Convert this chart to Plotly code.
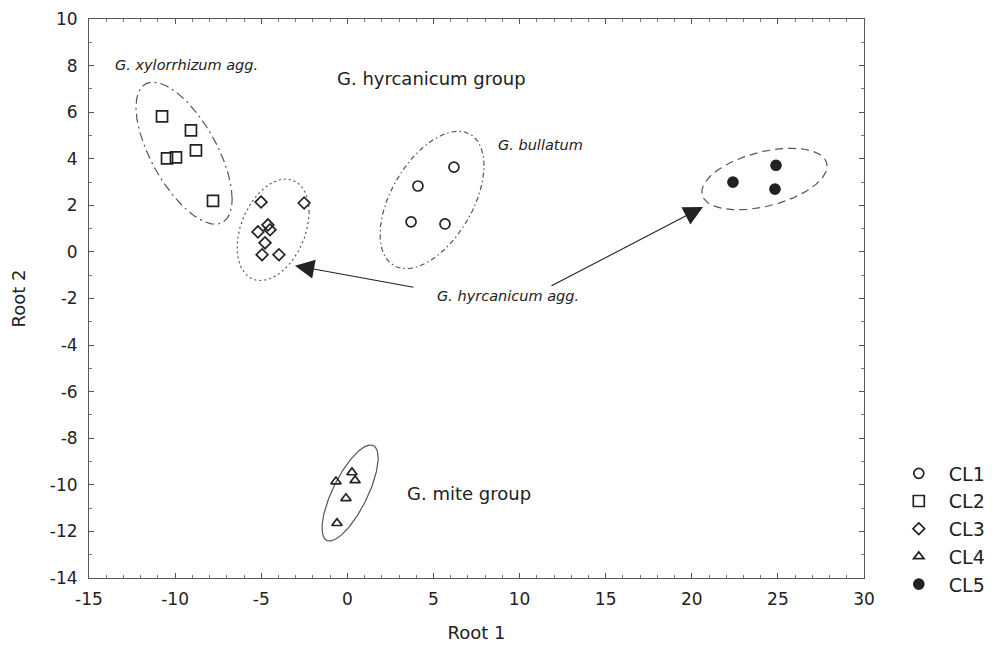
import numpy as np
import plotly.graph_objects as go

# ---- data ----
cl1_x = [6.19, 4.10, 3.70, 5.67]
cl1_y = [3.64, 2.83, 1.29, 1.20]
cl2_x = [-10.76, -9.08, -10.47, -9.95, -8.79, -7.80]
cl2_y = [5.82, 5.22, 4.02, 4.06, 4.36, 2.19]
cl3_x = [-5.01, -2.51, -4.61, -4.49, -5.19, -4.78, -4.95, -3.97]
cl3_y = [2.14, 2.10, 1.16, 0.95, 0.86, 0.39, -0.12, -0.12]
cl4_x = [-0.66, 0.27, 0.45, -0.08, -0.60]
cl4_y = [-9.86, -9.47, -9.81, -10.58, -11.65]
cl5_x = [24.89, 22.39, 24.83]
cl5_y = [3.72, 3.00, 2.70]

x_ticks = [-15, -10, -5, 0, 5, 10, 15, 20, 25, 30]
x_ticktext = ["-15", "-10", "-5", "0", "5", "10", "15", "20", "25", "30"]
y_ticks = [10, 8, 6, 4, 2, 0, -2, -4, -6, -8, -10, -12, -14]
y_ticktext = ["10", "8", "6", "4", "2", "0", "-2", "-4", "-6", "-8", "-10", "-12", "-14"]

# ellipse params: centre x, centre y, half-width, half-height, correlation, dash
ell_cx = [-9.48, -4.31, 4.92, 0.16, 24.22]
ell_cy = [4.24, 0.95, 2.23, -10.35, 3.13]
ell_rx = [2.79, 2.09, 3.02, 1.63, 3.64]
ell_ry = [3.05, 2.18, 2.95, 2.06, 1.32]
ell_rho = [-0.646, 0.35, 0.50, 0.73, 0.42]
ell_dash = ["9px,4px,2px,4px", "2px,3px", "5px,3px,1.5px,3px", "solid", "8px,5px"]

INK = "#222222"
FONT = "DejaVu Sans, Verdana, sans-serif"

fig = go.Figure()

t = np.linspace(0, 2 * np.pi, 300)
for cx, cy, rx, ry, rho, dash in zip(ell_cx, ell_cy, ell_rx, ell_ry, ell_rho, ell_dash):
    d = np.arccos(rho)
    fig.add_trace(go.Scatter(
        x=cx + rx * np.cos(t), y=cy + ry * np.cos(t - d),
        mode="lines", line=dict(color="#555555", width=1.2, dash=dash),
        showlegend=False, hoverinfo="skip"))

series = [
    ("CL1", cl1_x, cl1_y, "circle-open", 10),
    ("CL2", cl2_x, cl2_y, "square-open", 11),
    ("CL3", cl3_x, cl3_y, "diamond-open", 9),
    ("CL4", cl4_x, cl4_y, "triangle-up-open", 9),
    ("CL5", cl5_x, cl5_y, "circle", 10),
]
for name, xs, ys, sym, sz in series:
    fig.add_trace(go.Scatter(
        x=xs, y=ys, mode="markers", name=name,
        marker=dict(symbol=sym, size=sz, color=INK,
                    line=dict(width=1.7, color=INK))))

# text labels
labels = [
    ("G. xylorrhizum agg.", -13.6, 8.04, True, 14.5, "left"),
    ("G. hyrcanicum group", 4.88, 7.44, False, 18, "center"),
    ("G. bullatum", 8.63, 4.59, True, 14.5, "left"),
    ("G. hyrcanicum agg.", 5.09, -1.88, True, 14.5, "left"),
    ("G. mite group", 3.35, -10.36, False, 18, "left"),
]
for txt, x, y, it, fs, anc in labels:
    fig.add_annotation(x=x, y=y, xref="x", yref="y", showarrow=False,
                       text=f"<i>{txt}</i>" if it else txt, xanchor=anc,
                       font=dict(family=FONT, size=fs, color=INK))

# arrows
arrows = [(-3.04, -0.59, 3.93, -1.53), (20.65, 1.93, 11.77, -1.49)]
for x, y, ax, ay in arrows:
    fig.add_annotation(x=x, y=y, ax=ax, ay=ay, xref="x", yref="y",
                       axref="x", ayref="y", showarrow=True, text="",
                       arrowhead=2, arrowsize=3.5, arrowwidth=1.1,
                       arrowcolor=INK)

axis_common = dict(showline=True, linecolor="#555555", linewidth=1,
                   mirror="ticks", ticks="inside", ticklen=5,
                   tickcolor="#555555", showgrid=False, zeroline=False,
                   ticklabeloverflow="allow", automargin=False,
                   tickfont=dict(family=FONT, size=17, color=INK))

fig.update_xaxes(range=[-15, 30], tickvals=x_ticks, ticktext=x_ticktext,
                 ticklabelstandoff=6,
                 minor=dict(dtick=1, tick0=-15, ticks="inside", ticklen=3,
                            tickcolor="#777777"),
                 title=dict(text="Root 1", standoff=17,
                            font=dict(family=FONT, size=18, color=INK)),
                 **axis_common)
fig.update_yaxes(range=[-14, 10], tickvals=y_ticks, ticktext=y_ticktext,
                 ticklabelstandoff=7,
                 minor=dict(dtick=1, tick0=-14, ticks="inside", ticklen=3,
                            tickcolor="#777777"),
                 title=dict(text="Root 2", standoff=19,
                            font=dict(family=FONT, size=18, color=INK)),
                 **axis_common)

fig.update_layout(
    width=995, height=647,
    margin=dict(l=81, r=139, t=11, b=77),
    paper_bgcolor="white", plot_bgcolor="white",
    font=dict(family=FONT, size=17, color=INK),
    legend=dict(x=1.032, y=0.221, xanchor="left", yanchor="top",
                font=dict(family=FONT, size=19, color=INK),
                tracegroupgap=0, itemwidth=50, bgcolor="rgba(0,0,0,0)"),
)

fig.write_html("out.html")
